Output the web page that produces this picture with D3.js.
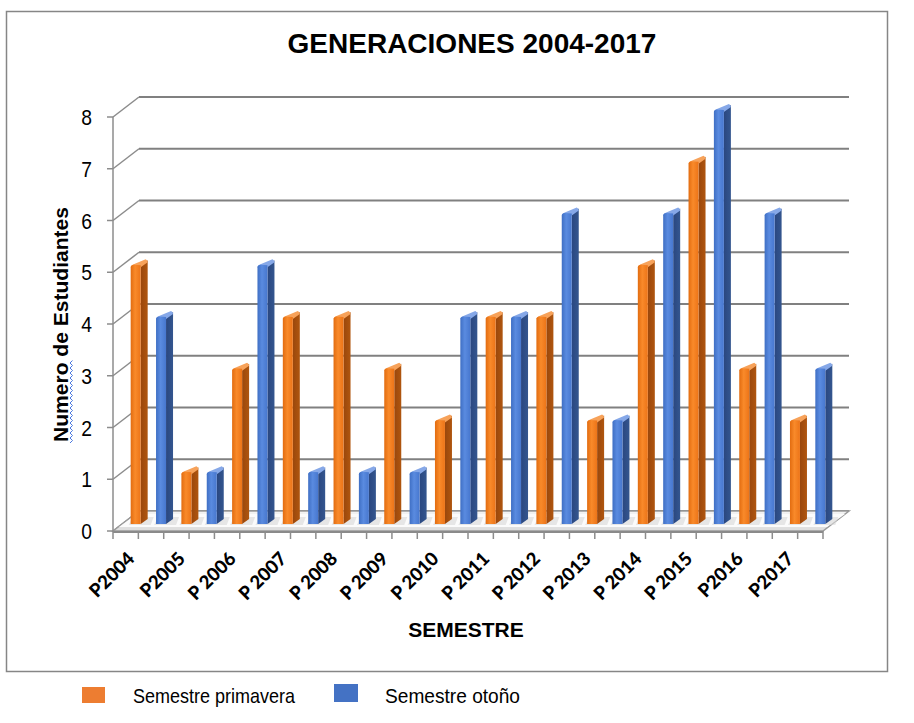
<!DOCTYPE html>
<html>
<head>
<meta charset="utf-8">
<script src="https://cdn.jsdelivr.net/npm/d3@7"></script>
<style>
  html, body { margin: 0; padding: 0; background: #fff; }
  svg { display: block; }
</style>
</head>
<body>
<svg id="chart" width="914" height="723"></svg>
<script>
// ---------------- DATA ----------------
const semesters = ["P2004","P2005","P 2006","P 2007","P 2008","P 2009","P 2010","P 2011","P 2012","P 2013","P 2014","P 2015","P2016","P2017"];
const primavera = [5,1,3,4,4,3,2,4,4,2,5,7,3,2];
const otono     = [4,1,5,1,1,1,4,4,6,2,6,8,6,3];
const yTicks    = [0,1,2,3,4,5,6,7,8];
const seriesNames = ["Semestre primavera","Semestre otoño"];
const titleText = "GENERACIONES 2004-2017";
const xTitle = "SEMESTRE";
const yTitle = "Numero de Estudiantes";

// ---------------- LAYOUT ----------------
const svg = d3.select("#chart");
const colors = {
  prim: { top: "#F7A25A" },
  oto:  { top: "#86A8E8" }
};
const legendColors = ["#ED7D31", "#4472C4"];

const slots = [];
semesters.forEach((s, i) => {
  slots.push({ key: 2*i,   label: s,  value: primavera[i], series: "prim" });
  slots.push({ key: 2*i+1, label: "", value: otono[i],     series: "oto" });
});

const x = d3.scaleBand().domain(slots.map(d => d.key)).range([113, 823]).paddingInner(0).paddingOuter(0);
const y = d3.scaleLinear().domain([0, 8]).range([531, 117]);

const DX = 26, DY = -20;
const BFX = 10, BFY = -7;
const BSX = 7,  BSY = -5;
const BW = 10;

const defs = svg.append("defs");
function hGrad(id, stops) {
  const g = defs.append("linearGradient").attr("id", id).attr("x1", "0").attr("x2", "1").attr("y1", "0").attr("y2", "0");
  stops.forEach(s => g.append("stop").attr("offset", s[0]).attr("stop-color", s[1]));
}
hGrad("gPrimF", [[0, "#E26C10"], [0.45, "#F98A2A"], [1, "#EC7418"]]);
hGrad("gPrimS", [[0, "#9A470C"], [1, "#B0560F"]]);
hGrad("gOtoF",  [[0, "#3F6FC4"], [0.45, "#5A8BE0"], [1, "#4777CE"]]);
hGrad("gOtoS",  [[0, "#2A4780"], [1, "#34568F"]]);
const fl = defs.append("linearGradient").attr("id", "gFloor").attr("x1","0").attr("x2","0").attr("y1","0").attr("y2","1");
fl.append("stop").attr("offset", 0).attr("stop-color", "#f4f4f4");
fl.append("stop").attr("offset", 1).attr("stop-color", "#dcdcdc");

svg.append("rect").attr("x", 6.5).attr("y", 11.5).attr("width", 881).attr("height", 660)
  .attr("fill", "#fff").attr("stroke", "#868686").attr("stroke-width", 1.5);

svg.append("text").attr("x", 472).attr("y", 53).attr("text-anchor", "middle")
  .attr("font-family", "'Liberation Sans', Arial, sans-serif").attr("font-weight", "bold")
  .attr("font-size", 28).attr("fill", "#000").text(titleText);

const grid = svg.append("g");
const x0 = x.range()[0], x1 = x.range()[1];

yTicks.forEach(t => {
  const yy = y(t);
  grid.append("line").attr("x1", x0 + DX).attr("x2", x1 + DX).attr("y1", yy + DY).attr("y2", yy + DY)
    .attr("stroke", "#808080").attr("stroke-width", 2);
  grid.append("line").attr("x1", x0).attr("y1", yy).attr("x2", x0 + DX).attr("y2", yy + DY)
    .attr("stroke", "#8c8c8c").attr("stroke-width", 1.5);
  grid.append("line").attr("x1", x0 - 6).attr("x2", x0).attr("y1", yy).attr("y2", yy)
    .attr("stroke", "#8c8c8c").attr("stroke-width", 1.5);
  grid.append("text").attr("transform", `translate(92,${yy + 8}) scale(0.92,1.08)`).attr("text-anchor", "end")
    .attr("font-family", "'Liberation Sans', Arial, sans-serif").attr("font-size", 21)
    .attr("fill", "#000").text(t);
});

const y0 = y(0);
svg.append("path")
  .attr("d", `M${x0},${y0} L${x1},${y0} L${x1 + DX},${y0 + DY} L${x0 + DX},${y0 + DY} Z`)
  .attr("fill", "url(#gFloor)").attr("stroke", "#9a9a9a").attr("stroke-width", 1.5);
svg.append("line").attr("x1", x0).attr("x2", x1).attr("y1", y0 + 1).attr("y2", y0 + 1)
  .attr("stroke", "#8a8a8a").attr("stroke-width", 2);
svg.append("path")
  .attr("d", `M${x0 + 6},${y0 - 4} L${x1 + 4},${y0 - 4} L${x1 + DX - 4},${y0 + DY + 3} L${x0 + DX - 2},${y0 + DY + 3} Z`)
  .attr("fill", "#fbfbfb");

svg.append("line").attr("x1", x0).attr("x2", x0).attr("y1", y(8)).attr("y2", y0 + 1)
  .attr("stroke", "#8c8c8c").attr("stroke-width", 1.5);

const bounds = slots.map(d => x(d.key)).concat([x1]);
svg.append("g").selectAll("line").data(bounds).join("line")
  .attr("x1", d => d).attr("x2", d => d).attr("y1", y0).attr("y2", y0 + 8)
  .attr("stroke", "#8c8c8c").attr("stroke-width", 1.5);

const bars = svg.append("g");
slots.forEach(d => {
  const cx = x(d.key) + x.bandwidth() / 2 + BFX;
  const left = cx - BW / 2, right = cx + BW / 2;
  const base = y(0) + BFY;
  const top = y(d.value) + BFY;
  const c = colors[d.series];
  const fId = d.series === "prim" ? "gPrimF" : "gOtoF";
  const sId = d.series === "prim" ? "gPrimS" : "gOtoS";
  bars.append("path")
    .attr("d", `M${left - 2},${base + 1} L${right + BSX + 3},${base + 1} L${right + BSX + 6},${base + BSY - 2} L${left + 2},${base + BSY - 2} Z`)
    .attr("fill", "#d8d8d8").attr("opacity", 0.6);
  bars.append("path")
    .attr("d", `M${right},${top} L${right + BSX},${top + BSY} L${right + BSX},${base + BSY} L${right},${base} Z`)
    .attr("fill", `url(#${sId})`);
  bars.append("path")
    .attr("d", `M${left},${top + 2} Q${left},${top} ${left + 3},${top - 1} L${right + BSX - 2},${top + BSY - 1} Q${right + BSX},${top + BSY} ${right + BSX},${top + BSY + 2} L${right},${top + 2} Z`)
    .attr("fill", c.top);
  bars.append("path")
    .attr("d", `M${left},${base} L${left},${top + 2} Q${left},${top} ${left + 3},${top - 0.5} L${right},${top} L${right},${base} Z`)
    .attr("fill", `url(#${fId})`);
});

svg.append("g").selectAll("text").data(slots.filter(d => d.label !== "")).join("text")
  .attr("transform", d => `translate(${x(d.key) + x.bandwidth() / 2 + 10},${560}) rotate(-45)`)
  .attr("text-anchor", "end")
  .attr("font-family", "Lato, 'Open Sans', sans-serif").attr("font-weight", "900")
  .attr("font-size", 18.5).attr("fill", "#000")
  .text(d => d.label);

svg.append("text").attr("x", 466).attr("y", 637).attr("text-anchor", "middle")
  .attr("font-family", "'Liberation Sans', Arial, sans-serif").attr("font-weight", "bold")
  .attr("font-size", 21).attr("fill", "#000").text(xTitle);

svg.append("text").attr("transform", "translate(68,324.5) rotate(-90)").attr("text-anchor", "middle")
  .attr("font-family", "'Liberation Sans', Arial, sans-serif").attr("font-weight", "bold")
  .attr("font-size", 21).attr("fill", "#000")
  .attr("textLength", 235).attr("lengthAdjust", "spacingAndGlyphs").text(yTitle);

const sq = d3.path();
sq.moveTo(70, 443);
for (let yy = 443, k = 0; yy > 362; yy -= 2.5, k++) sq.lineTo(k % 2 ? 70 : 72.5, yy - 2.5);
svg.append("path").attr("d", sq.toString()).attr("fill", "none").attr("stroke", "#4a78e0").attr("stroke-width", 1);

const legend = [
  { name: seriesNames[0], color: legendColors[0], rx: 82, ry: 687, rw: 23, rh: 16, tx: 133, tw: 162 },
  { name: seriesNames[1], color: legendColors[1], rx: 334, ry: 684, rw: 24, rh: 18, tx: 385, tw: 135 }
];
legend.forEach(l => {
  svg.append("rect").attr("x", l.rx).attr("y", l.ry).attr("width", l.rw).attr("height", l.rh).attr("fill", l.color);
  svg.append("text").attr("x", l.tx).attr("y", 703)
    .attr("font-family", "'Liberation Sans', Arial, sans-serif").attr("font-size", 21)
    .attr("textLength", l.tw).attr("lengthAdjust", "spacingAndGlyphs")
    .attr("fill", "#000").text(l.name);
});
</script>
</body>
</html>
